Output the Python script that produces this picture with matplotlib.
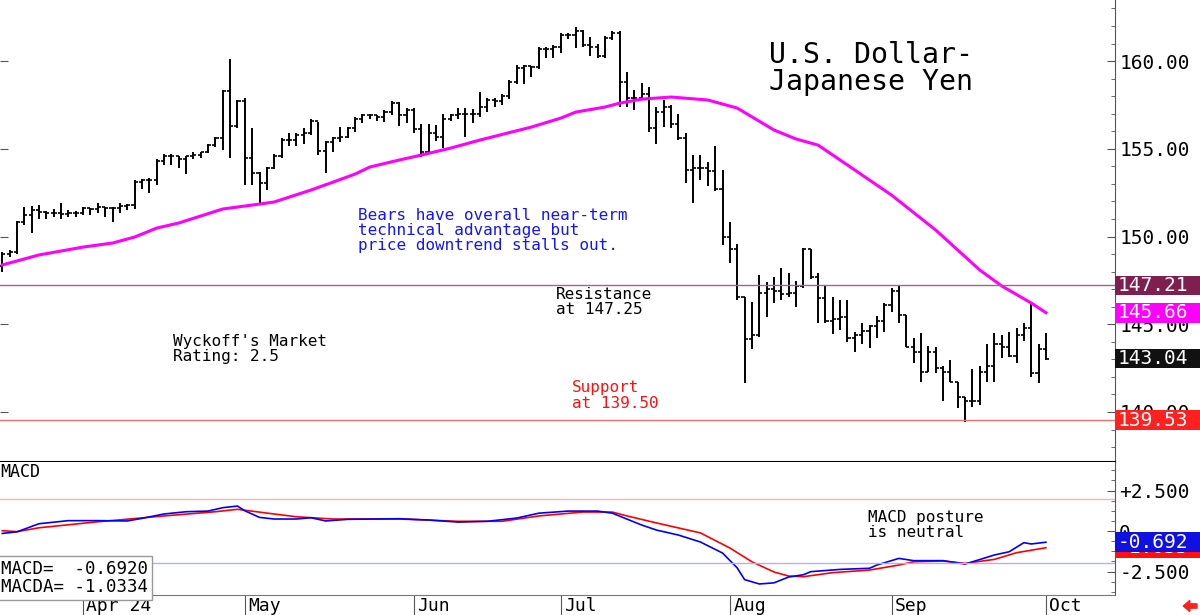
import numpy as np
import pandas as pd
import matplotlib
matplotlib.use("Agg")
import matplotlib.pyplot as plt
from matplotlib.patches import Rectangle, FancyArrow
from matplotlib.transforms import blended_transform_factory

# daily USD/JPY bars, 15 Mar 2024 - 1 Oct 2024 (weekdays)
dates = pd.bdate_range("2024-03-15", "2024-10-01")

opens = [
    148.3, 149.0, 149.1, 150.8, 151.2, 151.5, 151.4, 151.35, 151.35, 151.3,
    151.35, 151.35, 151.6, 151.55, 151.7, 151.6, 151.6, 151.75, 151.8, 153.1,
    153.2, 153.25, 154.3, 154.6, 154.6, 154.4, 154.6, 154.65, 154.8, 155.2,
    155.6, 158.3, 156.3, 157.75, 154.5, 153.6, 153.05, 153.9, 154.6, 155.5,
    155.5, 155.8, 155.9, 156.6, 154.9, 155.4, 155.6, 155.7, 156.2, 156.7,
    156.9, 156.9, 156.8, 157.1, 157.6, 156.9, 157.2, 156.1, 154.8, 155.9,
    155.7, 156.7, 156.9, 157.0, 157.0, 157.0, 157.4, 157.8, 157.7, 158.0,
    158.8, 159.6, 159.7, 159.65, 160.7, 160.7, 160.8, 161.5, 161.5, 161.7,
    160.9, 160.8, 160.3, 161.3, 161.6, 158.8, 157.9, 157.9, 158.1, 156.2,
    157.1, 157.4, 156.4, 155.6, 153.8, 153.9, 153.9, 153.75, 152.7, 150.0,
    149.3, 146.55, 144.15, 144.4, 146.8, 147.0, 146.9, 146.7, 146.8, 147.2,
    149.3, 147.7, 146.5, 145.2, 145.3, 145.4, 144.2, 144.4, 144.6, 144.9,
    145.2, 146.1, 146.9, 145.5, 143.7, 143.4, 142.3, 143.4, 142.5, 142.3,
    141.7, 140.85, 140.6, 140.6, 142.3, 142.6, 143.9, 143.7, 143.2, 144.4,
    144.8, 142.2, 143.6,
]
highs = [
    149.1, 149.25, 150.9, 151.7, 151.75, 151.8, 151.45, 151.55, 151.9, 151.5,
    151.45, 151.7, 151.65, 151.9, 151.7, 151.7, 151.9, 151.85, 153.2, 153.3,
    153.35, 154.4, 154.7, 154.7, 154.6, 154.6, 154.8, 154.8, 155.3, 155.7,
    158.35, 160.1, 157.8, 157.9, 156.2, 153.7, 153.95, 154.7, 155.6, 155.9,
    155.9, 156.2, 156.7, 156.5, 155.45, 155.7, 156.25, 156.25, 156.8, 157.0,
    157.0, 156.9, 157.2, 157.7, 157.65, 157.3, 157.3, 156.4, 156.4, 156.35,
    157.0, 157.0, 157.35, 157.35, 157.25, 158.25, 157.9, 157.9, 158.1, 158.9,
    159.8, 159.8, 159.7, 160.8, 160.8, 160.9, 161.6, 161.6, 161.95, 161.75,
    161.35, 161.0, 161.4, 161.7, 161.7, 159.4, 158.35, 158.75, 158.5, 157.4,
    157.8, 157.5, 157.0, 155.9, 154.65, 154.65, 154.25, 155.15, 153.8, 150.8,
    149.6, 146.55, 146.25, 147.8, 147.4, 147.7, 148.2, 147.9, 147.45, 149.35,
    149.3, 147.9, 147.2, 146.55, 146.4, 146.4, 144.55, 145.1, 144.95, 145.45,
    146.2, 147.05, 147.2, 145.5, 144.2, 144.5, 143.75, 143.7, 142.6, 142.95,
    141.7, 140.85, 142.45, 142.6, 143.9, 144.5, 144.4, 144.55, 144.8, 145.1,
    146.2, 143.9, 144.5,
]
lows = [
    148.0, 148.85, 149.0, 150.65, 150.2, 151.0, 151.0, 151.1, 151.0, 151.1,
    151.1, 151.2, 151.2, 151.35, 151.1, 150.8, 151.35, 151.5, 151.55, 152.7,
    152.5, 152.95, 154.1, 154.1, 153.9, 153.55, 154.4, 154.45, 154.75, 155.1,
    154.95, 154.45, 156.2, 152.95, 152.95, 151.8, 152.65, 153.85, 154.5, 155.15,
    155.15, 155.3, 155.8, 154.65, 153.6, 154.8, 155.4, 155.6, 155.95, 156.45,
    156.7, 156.6, 156.5, 156.9, 156.3, 156.45, 155.9, 154.55, 154.75, 155.45,
    155.05, 156.6, 156.7, 155.7, 156.45, 156.8, 157.1, 157.4, 157.5, 157.85,
    158.7, 158.7, 159.1, 159.55, 160.2, 160.2, 160.45, 161.25, 160.75, 160.8,
    160.3, 160.2, 160.2, 161.2, 157.4, 157.4, 157.2, 157.85, 155.95, 155.3,
    156.25, 156.2, 155.5, 153.05, 151.9, 153.2, 152.9, 152.6, 149.5, 148.5,
    146.4, 141.65, 143.6, 144.3, 145.4, 146.2, 146.4, 146.55, 146.0, 147.05,
    147.6, 145.1, 145.1, 144.45, 144.7, 144.0, 143.4, 143.9, 143.65, 144.2,
    144.55, 145.7, 145.05, 143.7, 142.8, 141.7, 142.3, 142.2, 140.6, 141.7,
    140.2, 139.45, 140.3, 140.4, 141.7, 141.7, 143.1, 143.15, 142.8, 144.05,
    142.0, 141.65, 142.95,
]
closes = [
    149.0, 149.1, 150.8, 151.2, 151.5, 151.4, 151.35, 151.35, 151.3, 151.35,
    151.35, 151.6, 151.55, 151.7, 151.6, 151.6, 151.75, 151.8, 153.1, 153.2,
    153.25, 154.3, 154.6, 154.6, 154.4, 154.6, 154.65, 154.8, 155.2, 155.6,
    158.3, 156.3, 157.75, 154.5, 153.6, 153.05, 153.9, 154.6, 155.5, 155.5,
    155.8, 155.9, 156.6, 154.9, 155.4, 155.6, 155.7, 156.2, 156.7, 156.9,
    156.9, 156.8, 157.1, 157.6, 156.9, 157.2, 156.1, 154.8, 155.9, 155.7,
    156.7, 156.9, 157.0, 157.0, 157.0, 157.4, 157.8, 157.7, 158.0, 158.8,
    159.6, 159.7, 159.65, 160.7, 160.7, 160.8, 161.5, 161.5, 161.7, 160.9,
    160.8, 160.3, 161.3, 161.6, 158.8, 157.9, 157.9, 158.1, 156.2, 157.1,
    157.4, 156.4, 155.6, 153.8, 153.9, 153.9, 153.75, 152.7, 150.0, 149.3,
    146.55, 144.15, 144.4, 146.8, 147.0, 146.9, 146.7, 146.8, 147.2, 149.3,
    147.7, 146.5, 145.2, 145.3, 145.4, 144.2, 144.4, 144.6, 144.9, 145.2,
    146.1, 146.9, 145.5, 143.7, 143.4, 142.3, 143.4, 142.5, 142.3, 141.7,
    140.85, 140.6, 140.6, 142.3, 142.6, 143.9, 143.7, 143.2, 144.4, 144.8,
    142.2, 143.6, 143.04,
]

# moving average (magenta) at bar positions
ma_idx = [0, 5, 11, 15, 18, 21, 24, 30, 35, 37, 42, 45, 48, 50, 54, 57, 61,
          65, 72, 76, 78, 82, 84, 87, 91, 96, 100, 105, 108, 111, 114, 119,
          121, 127, 133, 136, 140, 142]
ma_val = [148.38, 148.95, 149.4, 149.63, 149.97, 150.48, 150.77, 151.57,
          151.85, 151.97, 152.65, 153.1, 153.56, 153.96, 154.36, 154.64,
          155.04, 155.5, 156.24, 156.75, 157.09, 157.38, 157.6, 157.83,
          157.95, 157.78, 157.32, 156.07, 155.56, 155.21, 154.36, 152.93,
          152.36, 150.37, 148.09, 147.18, 146.21, 145.66]

# MACD (blue) and its average MACDA (red)
macd_idx = [0, 2, 5, 9, 13, 17, 19, 22, 25, 28, 30, 32, 33, 35, 37, 40, 42,
            44, 47, 54, 58, 62, 66, 70, 73, 77, 81, 83, 87, 89, 92, 95, 98,
            100, 101, 103, 105, 107, 109, 110, 114, 118, 119, 122, 124, 128,
            131, 135, 137, 139, 140, 142]
macd_val = [-0.15, -0.05, 0.45, 0.64, 0.64, 0.62, 0.78, 1.05, 1.19, 1.23,
            1.44, 1.54, 1.25, 0.84, 0.74, 0.74, 0.82, 0.62, 0.72, 0.76, 0.68,
            0.55, 0.6, 0.8, 1.1, 1.23, 1.23, 1.1, 0.37, 0.06, -0.25, -0.68,
            -1.36, -2.28, -3.0, -3.27, -3.2, -2.84, -2.7, -2.51, -2.37, -2.3,
            -2.1, -1.69, -1.83, -1.83, -2.04, -1.48, -1.28, -0.72, -0.8,
            -0.692]
sig_idx = [0, 2, 5, 13, 22, 29, 32, 37, 40, 45, 54, 62, 68, 73, 79, 83, 85,
           89, 95, 99, 102, 105, 107, 109, 113, 118, 122, 124, 128, 131, 135,
           138, 142]
sig_val = [0.02, -0.04, 0.2, 0.57, 0.93, 1.19, 1.34, 1.05, 0.88, 0.74, 0.74,
           0.6, 0.6, 0.93, 1.17, 1.17, 0.93, 0.5, -0.12, -1.05, -1.9, -2.53,
           -2.78, -2.82, -2.57, -2.41, -2.1, -1.9, -1.85, -2.0, -1.75, -1.34,
           -1.0334]

resistance = 147.21
support = 139.53

MONO = "DejaVu Sans Mono"


def main():
    W, H = 1200, 615
    fig = plt.figure(figsize=(W / 100, H / 100), dpi=100)
    right = 1115 / W
    ax = fig.add_axes([0, (H - 462) / H, right, 462 / H])
    ax2 = fig.add_axes([0, (H - 595) / H, right, 133 / H], sharex=ax)

    x = np.arange(len(closes))
    ax.vlines(x, lows, highs, color="black", lw=1.4)
    ax.hlines(opens, x - 0.42, x, color="black", lw=1.2)
    ax.hlines(closes, x, x + 0.42, color="black", lw=1.2)
    ax.plot(ma_idx, ma_val, color="#ff00ff", lw=2.2)
    ax.axhline(resistance, color="#b06080", lw=1)
    ax.axhline(support, color="#f07070", lw=1)

    ax.set_xlim(-0.31, 151.4)
    ax.set_ylim(137.15, 163.48)
    for s in ["top", "left"]:
        ax.spines[s].set_visible(False)
    ax.spines["bottom"].set_color("black")
    ax.spines["bottom"].set_linewidth(1.5)
    ax.spines["right"].set_color("#555555")
    ax.yaxis.tick_right()
    ax.set_yticks([140, 145, 150, 155, 160])
    ax.set_yticks(np.arange(138, 164, 1), minor=True)
    ax.yaxis.set_major_formatter(plt.FormatStrFormatter("%.2f"))
    ax.tick_params(axis="y", which="major", direction="in", length=6,
                   color="#555555", pad=3, labelsize=14, left=True)
    ax.tick_params(axis="y", which="minor", direction="in", length=3,
                   color="#555555", left=False)
    ax.tick_params(axis="x", which="both", bottom=False, labelbottom=False)
    for lab in ax.get_yticklabels():
        lab.set_fontfamily(MONO)

    # value boxes at the right edge
    tb = blended_transform_factory(ax.transAxes, ax.transData)
    for val, col in [(resistance, "#7f1f4f"), (ma_val[-1], "#ff00ff"),
                     (closes[-1], "#111111"), (support, "#ff2020")]:
        ax.add_patch(Rectangle((1.0, val - 0.56), 0.08, 1.12, transform=tb,
                               facecolor=col, edgecolor="none", clip_on=False,
                               zorder=5))
        ax.text(1.0027, val, f"{val:.2f}", transform=tb, color="white",
                fontsize=14, family=MONO, va="center", ha="left",
                clip_on=False, zorder=6)

    # MACD panel
    ax2.plot(sig_idx, sig_val, color="red", lw=1.2)
    ax2.plot(macd_idx, macd_val, color="blue", lw=1.2)
    ax2.axhline(2, color="#ffb0b0", lw=1)
    ax2.axhline(-2, color="#b0b0ff", lw=1)
    ax2.set_ylim(-3.95, 4.26)
    ax2.spines["left"].set_visible(False)
    ax2.spines["top"].set_visible(False)
    ax2.spines["right"].set_color("#555555")
    ax2.spines["bottom"].set_color("#777777")
    ax2.yaxis.tick_right()
    ax2.set_yticks([2.5, 0, -2.5])
    ax2.set_yticklabels(["+2.500", "0", "-2.500"], family=MONO)
    ax2.set_yticks(np.arange(-3.75, 4.3, 0.625), minor=True)
    ax2.tick_params(axis="y", which="major", direction="in", length=6,
                    color="#555555", pad=3, labelsize=14)
    ax2.tick_params(axis="y", which="minor", direction="in", length=3,
                    color="#555555")

    # red (MACDA) box sits behind the blue (MACD) box
    tb2 = blended_transform_factory(ax2.transAxes, ax2.transData)
    z = 5
    for val, col in [(sig_val[-1], "#ff1010"), (macd_val[-1], "#1010e0")]:
        ax2.add_patch(Rectangle((1.0, val - 0.62), 0.08, 1.24, transform=tb2,
                                facecolor=col, edgecolor="none",
                                clip_on=False, zorder=z))
        ax2.text(1.0027, val, f"{val:.3f}", transform=tb2, color="white",
                 fontsize=14, family=MONO, va="center", ha="left",
                 clip_on=False, zorder=z + 0.5)
        z += 1

    # month ticks under the MACD panel
    month_pos = [i for i in range(1, len(dates))
                 if dates[i].month != dates[i - 1].month]
    month_lab = ["Apr 24", "May", "Jun", "Jul", "Aug", "Sep", "Oct"]
    ax2.set_xticks(month_pos)
    ax2.tick_params(axis="x", direction="out", length=14.5, color="#555555",
                    labelbottom=False)
    tx = blended_transform_factory(ax2.transData, ax2.transAxes)
    for p, lab in zip(month_pos, month_lab):
        ax2.text(p + 0.45, -0.085, lab, transform=tx, fontsize=13,
                 family=MONO, va="center", ha="left", clip_on=False)

    # annotations
    def ftext(px, py, s, **kw):
        fig.text(px / W, 1 - py / H, s, va="top", ha="left", family=MONO, **kw)

    ftext(769, 41, "U.S. Dollar-\nJapanese Yen", fontsize=20.3, linespacing=0.97)
    ftext(358, 208, "Bears have overall near-term\ntechnical advantage but\n"
          "price downtrend stalls out.", fontsize=11.5, color="#1515ff",
          linespacing=1.02)
    ftext(556, 287, "Resistance\nat 147.25", fontsize=11.5, linespacing=1.0)
    ftext(173, 334, "Wyckoff's Market\nRating: 2.5", fontsize=11.5,
          linespacing=1.0)
    ftext(572, 380, "Support\nat 139.50", fontsize=11.5, color="#ff1010",
          linespacing=1.05)
    ftext(868, 510, "MACD posture\nis neutral", fontsize=11.5, linespacing=1.0)
    ftext(0, 463, "MACD", fontsize=12)
    fig.text(0.0005, 1 - 560 / H, "MACD=  -0.6920\nMACDA= -1.0334",
             va="top", ha="left", family=MONO, fontsize=12.5, linespacing=1.0,
             bbox=dict(boxstyle="square,pad=0.25", facecolor="white",
                       edgecolor="#999999", lw=1))

    fig.patches.append(FancyArrow(0.9975, 1 - 606 / H, -0.0115, 0,
                                  width=0.007, head_width=0.018,
                                  head_length=0.0055, transform=fig.transFigure,
                                  color="#ff2020", length_includes_head=True))

    fig.savefig("out.png", dpi=100)


if __name__ == "__main__":
    main()
